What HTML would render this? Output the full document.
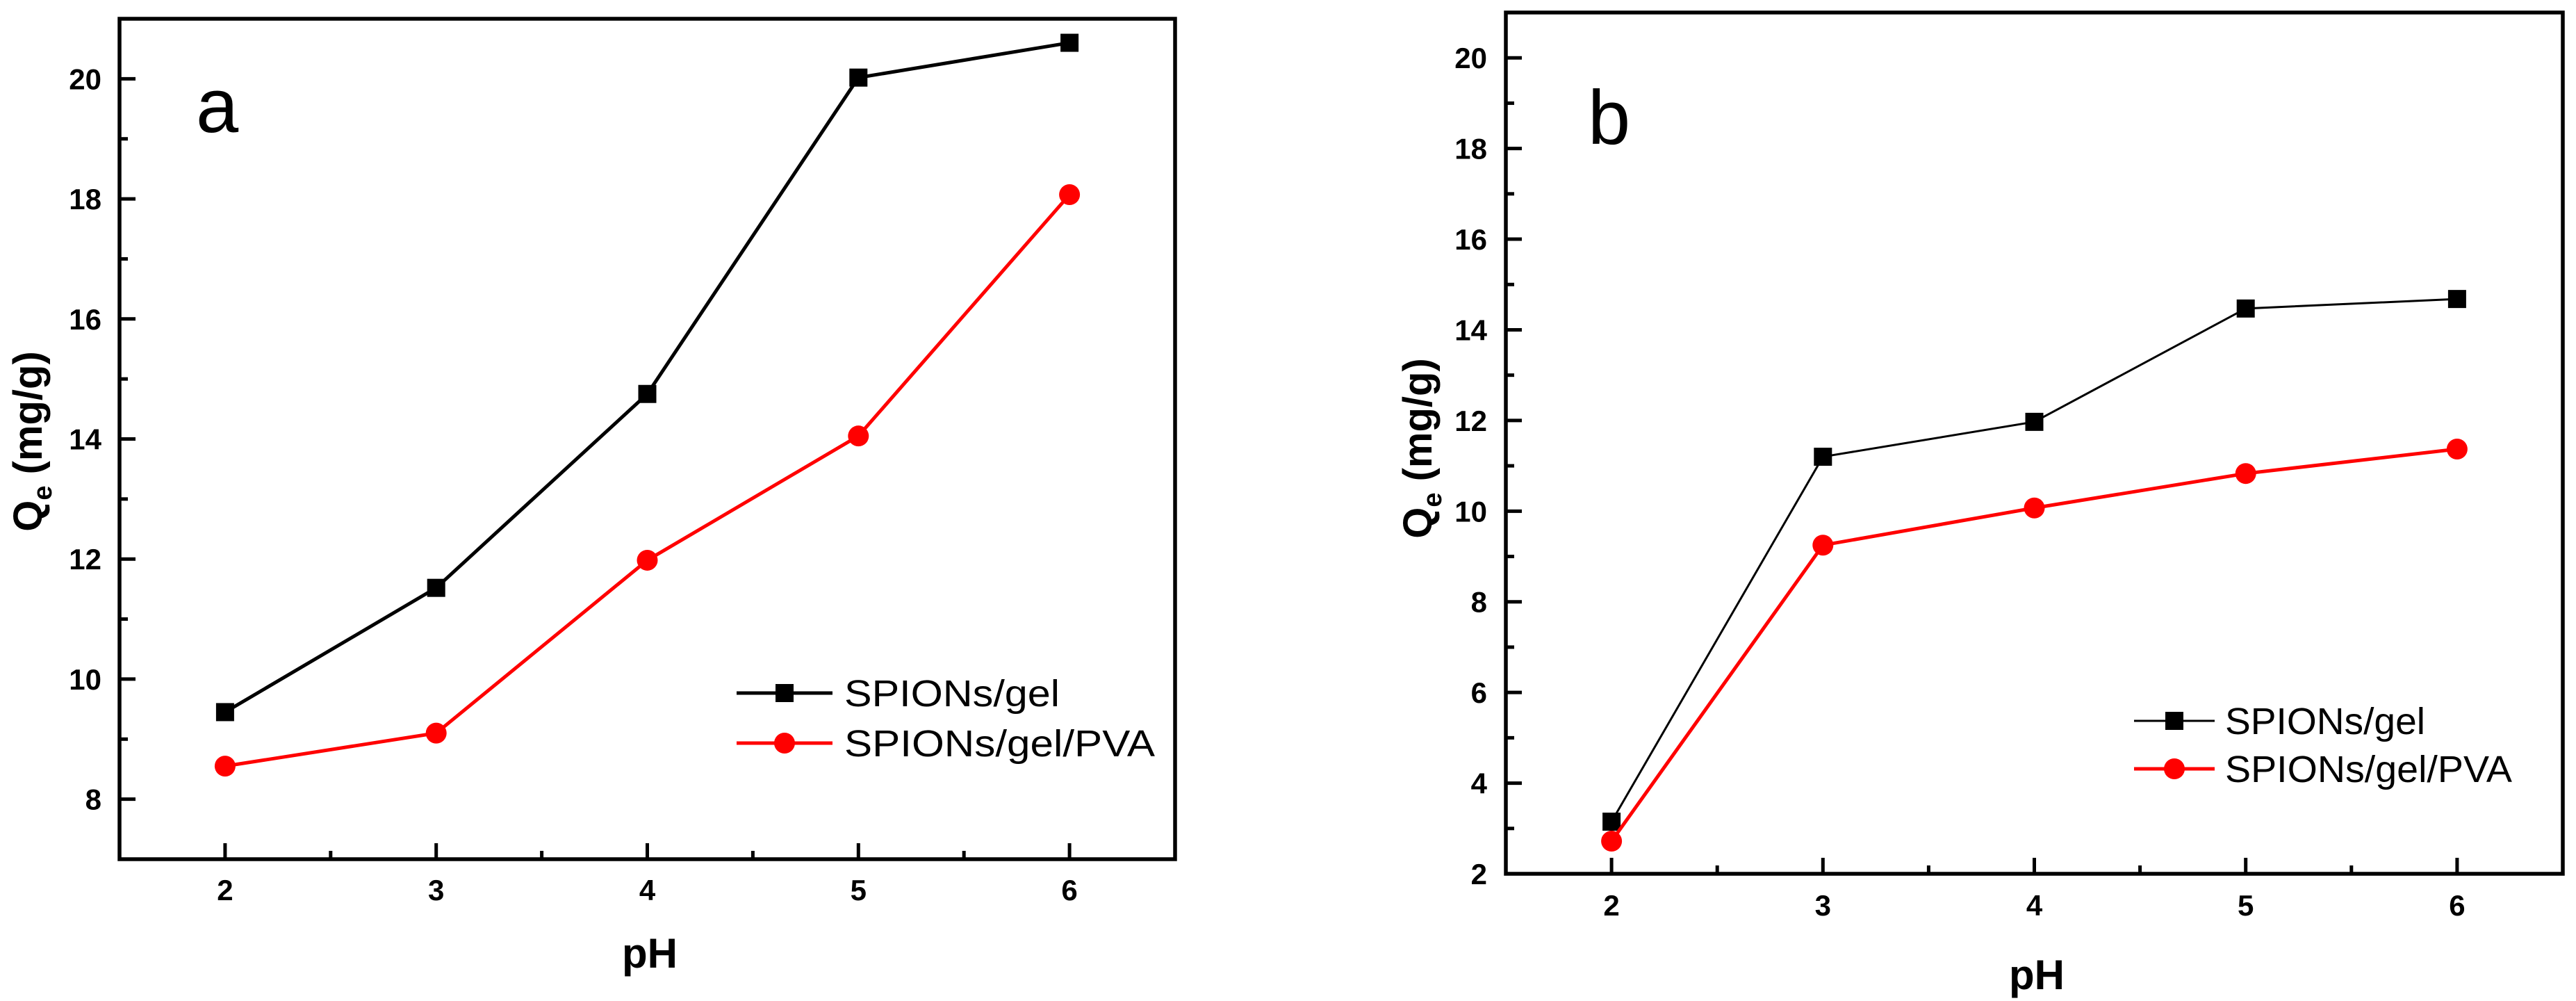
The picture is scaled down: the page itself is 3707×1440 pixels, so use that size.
<!DOCTYPE html>
<html><head><meta charset="utf-8"><style>
html,body{margin:0;padding:0;background:#fff;}
svg{display:block;font-family:"Liberation Sans",Arial,sans-serif;}
</style></head><body>
<svg id="chart" width="3707" height="1440" viewBox="0 0 3707 1440" xmlns="http://www.w3.org/2000/svg"></svg>
<script>
const categories = [2, 3, 4, 5, 6];
const aGel = [9.45, 11.52, 14.75, 20.02, 20.6];
const aGelPVA = [8.55, 9.1, 11.98, 14.05, 18.07];
const bGel = [3.15, 11.2, 11.97, 14.47, 14.68];
const bGelPVA = [2.72, 9.25, 10.07, 10.83, 11.37];
const xTicks = [2, 3, 4, 5, 6];
const aYTicks = [8, 10, 12, 14, 16, 18, 20];
const bYTicks = [2, 4, 6, 8, 10, 12, 14, 16, 18, 20];
const seriesNames = ["SPIONs/gel", "SPIONs/gel/PVA"];

const NS = "http://www.w3.org/2000/svg";
const svg = document.getElementById("chart");
function mk(tag, attrs, parent) {
  const e = document.createElementNS(NS, tag);
  for (const k in attrs) e.setAttribute(k, attrs[k]);
  (parent || svg).appendChild(e);
  return e;
}

function panel(cfg) {
  const g = mk("g", {});
  
  
  const xs = v => cfg.L + (v - 1.5) / 5 * (cfg.R - cfg.L);
  const ys = v => cfg.B - (v - cfg.ymin) / (cfg.ymax - cfg.ymin) * (cfg.B - cfg.T);
  const frame = mk("rect", {x: cfg.L, y: cfg.T, width: cfg.R - cfg.L, height: cfg.B - cfg.T, fill: "none", stroke: "#000", "stroke-width": 5.5}, g);
  
  
  // y ticks
  for (let v = Math.ceil(cfg.ymin); v <= cfg.ymax; v++) {
    const major = cfg.yticks.includes(v);
    const t = mk("line", {x1: cfg.L, x2: cfg.L + (major ? 23 : 12), y1: ys(v), y2: ys(v), stroke: "#000", "stroke-width": 5}, g);
    
    
  }
  cfg.yticks.forEach(v => {
    const t = mk("text", {x: cfg.yLabX, y: ys(v) + 15, "text-anchor": "end", "font-size": 42, "font-weight": "bold"}, g);
    t.textContent = v;
    
    
  });
  // x ticks
  for (let v = 2; v <= 6; v += 0.5) {
    const major = Number.isInteger(v);
    const t = mk("line", {x1: xs(v), x2: xs(v), y1: cfg.B, y2: cfg.B - (major ? 23 : 12), stroke: "#000", "stroke-width": 5}, g);
    
    
  }
  xTicks.forEach(v => {
    const t = mk("text", {x: xs(v), y: cfg.xLabY, "text-anchor": "middle", "font-size": 42, "font-weight": "bold"}, g);
    t.textContent = v;
    
    
  });
  const xt = mk("text", {x: cfg.pHX, y: cfg.pHY, "text-anchor": "middle", "font-size": 60, "font-weight": "bold"}, g);
  xt.textContent = "pH";
  
  
  const yt = mk("text", {transform: `translate(${cfg.ytX},${cfg.ytY}) rotate(-90)`, "text-anchor": "middle", "font-size": 58, "font-weight": "bold"}, g);
  yt.innerHTML = 'Q<tspan font-size="38" dy="14">e</tspan><tspan dy="-14"> (mg/g)</tspan>';
  
  
  const pl = mk("text", {x: cfg.lblX, y: cfg.lblY, "font-size": 110}, g);
  pl.textContent = cfg.letter;
  
  
  // series
  const series = [
    {vals: cfg.s1, color: "#000", w: cfg.w1, shape: "square"},
    {vals: cfg.s2, color: "#ff0000", w: 5, shape: "circle"}
  ];
  series.forEach((s, i) => {
    const pts = categories.map((c, j) => xs(c) + "," + ys(s.vals[j])).join(" ");
    const line = mk("polyline", {points: pts, fill: "none", stroke: s.color, "stroke-width": s.w}, g);
    
    
    categories.forEach((c, j) => {
      let m;
      if (s.shape === "square") m = mk("rect", {x: xs(c) - 13, y: ys(s.vals[j]) - 13, width: 26, height: 26, fill: s.color}, g);
      else m = mk("circle", {cx: xs(c), cy: ys(s.vals[j]), r: 15, fill: s.color}, g);
      
      
    });
    // legend
    const ly = cfg.legY[i];
    const ll = mk("line", {x1: cfg.legX1, x2: cfg.legX2, y1: ly, y2: ly, stroke: s.color, "stroke-width": s.w}, g);
    
    
    const mx = (cfg.legX1 + cfg.legX2) / 2;
    let lm;
    if (s.shape === "square") lm = mk("rect", {x: mx - 13, y: ly - 13, width: 26, height: 26, fill: s.color}, g);
    else lm = mk("circle", {cx: mx, cy: ly, r: 15, fill: s.color}, g);
    
    
    const lt = mk("text", {x: cfg.legTX, y: ly + 19, "font-size": 54, textLength: cfg.legW[i], lengthAdjust: "spacingAndGlyphs"}, g);
    lt.textContent = seriesNames[i];
    
    
  });
}

panel({name: "panel-a", letter: "a", L: 172, R: 1691, T: 27, B: 1236, ymin: 7, ymax: 21, yticks: aYTicks,
  s1: aGel, s2: aGelPVA, w1: 5, yLabX: 146, xLabY: 1295, pHX: 935, pHY: 1392, ytX: 60, ytY: 635,
  lblX: 282, lblY: 190, legX1: 1060, legX2: 1198, legY: [997, 1069], legTX: 1215, legW: [310, 447]});
panel({name: "panel-b", letter: "b", L: 2167, R: 3688, T: 18, B: 1257, ymin: 2, ymax: 21, yticks: bYTicks,
  s1: bGel, s2: bGelPVA, w1: 3, yLabX: 2140, xLabY: 1317, pHX: 2931, pHY: 1423, ytX: 2060, ytY: 645,
  lblX: 2285, lblY: 207, legX1: 3071, legX2: 3187, legY: [1037, 1106], legTX: 3202, legW: [288, 413]});
</script>
</body></html>
